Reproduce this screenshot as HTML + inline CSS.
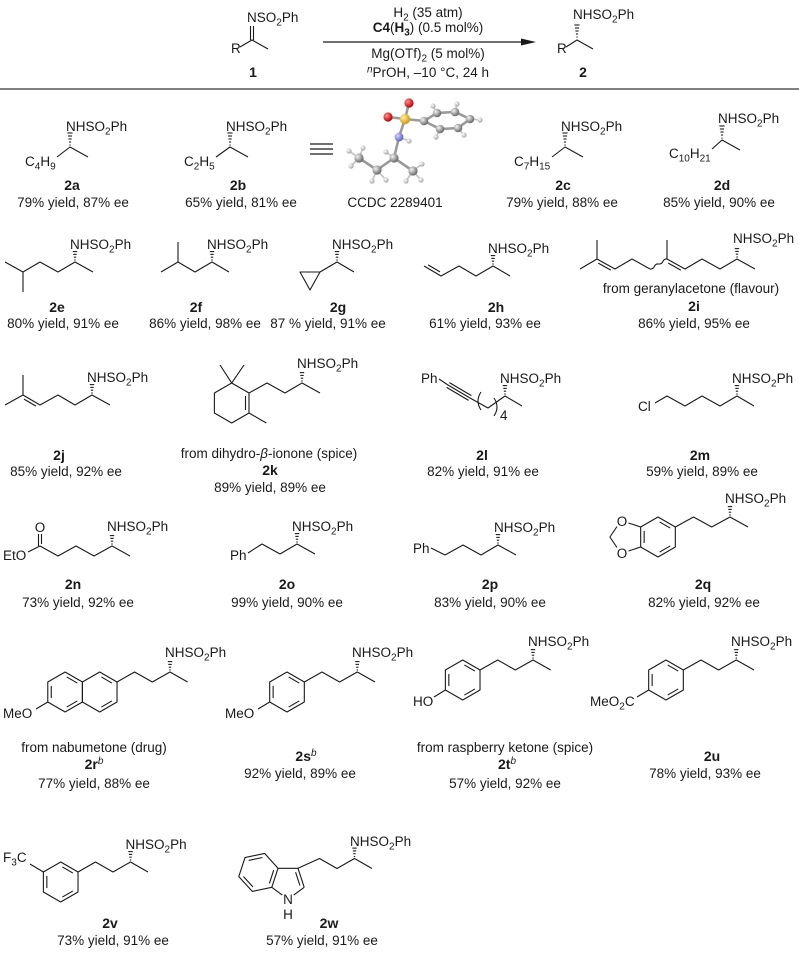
<!DOCTYPE html>
<html><head><meta charset="utf-8"><style>
html,body{margin:0;padding:0;background:#fff;width:799px;height:959px;overflow:hidden}
svg{display:block}
text{font-family:"Liberation Sans",Arial,sans-serif;font-size:13.5px;fill:#1a1a1a}
.l{font-weight:bold;font-size:14px;text-anchor:middle}
.c{text-anchor:middle}
.s{stroke:#1a1a1a;stroke-width:1.1;fill:none;stroke-linejoin:round}
</style></head><body>
<svg width="799" height="959" viewBox="0 0 799 959" xmlns="http://www.w3.org/2000/svg">
<defs>
<g id="hw" stroke="#1a1a1a" stroke-width="1.1">
<line x1="-0.7" y1="-2" x2="0.7" y2="-2"/><line x1="-1.2" y1="-4.8" x2="1.2" y2="-4.8"/><line x1="-1.7" y1="-7.6" x2="1.7" y2="-7.6"/><line x1="-2.2" y1="-10.4" x2="2.2" y2="-10.4"/>
</g>
<g id="hwl" stroke="#1a1a1a" stroke-width="1.1">
<line x1="-0.6" y1="-2" x2="0.6" y2="-2"/><line x1="-1.1" y1="-5" x2="1.1" y2="-5"/><line x1="-1.6" y1="-8" x2="1.6" y2="-8"/><line x1="-2.1" y1="-11" x2="2.1" y2="-11"/><line x1="-2.6" y1="-14" x2="2.6" y2="-14"/>
</g>
<g id="hx" stroke="#1a1a1a" stroke-width="1.1" fill="none" stroke-linejoin="round">
<polygon points="0,-20 17.32,-10 17.32,10 0,20 -17.32,10 -17.32,-10"/>
<line x1="1.66" y1="-15.04" x2="12.2" y2="-8.96"/><line x1="12.2" y1="8.96" x2="1.66" y2="15.04"/><line x1="-13.86" y1="6.08" x2="-13.86" y2="-6.08"/>
</g>
<g id="hx2" stroke="#1a1a1a" stroke-width="1.1" fill="none" stroke-linejoin="round">
<polygon points="0,-20 17.32,-10 17.32,10 0,20 -17.32,10 -17.32,-10"/>
<line x1="1.66" y1="-15.04" x2="12.2" y2="-8.96"/><line x1="12.2" y1="8.96" x2="1.66" y2="15.04"/>
</g>
<radialGradient id="gC" cx="35%" cy="35%" r="65%"><stop offset="0" stop-color="#f4f4f4"/><stop offset="1" stop-color="#6a6a6a"/></radialGradient>
<radialGradient id="gH" cx="35%" cy="35%" r="65%"><stop offset="0" stop-color="#ffffff"/><stop offset="1" stop-color="#a8a8a8"/></radialGradient>
<radialGradient id="gS" cx="35%" cy="35%" r="65%"><stop offset="0" stop-color="#fff2a0"/><stop offset="1" stop-color="#d09a10"/></radialGradient>
<radialGradient id="gO" cx="35%" cy="35%" r="65%"><stop offset="0" stop-color="#ff9090"/><stop offset="1" stop-color="#c00000"/></radialGradient>
<radialGradient id="gN" cx="35%" cy="35%" r="65%"><stop offset="0" stop-color="#d8d8ff"/><stop offset="1" stop-color="#6060c0"/></radialGradient>
</defs>

<!-- ===== Header ===== -->
<text x="247" y="22">NSO<tspan dy="3.5" font-size="10">2</tspan><tspan dy="-3.5">Ph</tspan></text>
<path class="s" d="M250.5,26V40M253.5,26V40M240,47L252,40L268,49"/>
<text x="231" y="53">R</text>
<text class="l" x="253" y="77">1</text>
<line x1="323" y1="42" x2="526" y2="42" stroke="#1a1a1a" stroke-width="1.3"/>
<polygon points="521,38.5 536,42 521,45.5" fill="#1a1a1a"/>
<text class="c" x="428" y="17">H<tspan dy="3.5" font-size="10">2</tspan><tspan dy="-3.5"> (35 atm)</tspan></text>
<text class="c" x="428" y="32"><tspan font-weight="bold">C4</tspan>(<tspan font-weight="bold">H</tspan><tspan font-weight="bold" font-size="10" dy="3.5">3</tspan><tspan dy="-3.5">) (0.5 mol%)</tspan></text>
<text class="c" x="428" y="58">Mg(OTf)<tspan dy="3.5" font-size="10">2</tspan><tspan dy="-3.5"> (5 mol%)</tspan></text>
<text class="c" x="428" y="77"><tspan font-style="italic" font-size="10" dy="-4.5">n</tspan><tspan dy="4.5">PrOH, –10 °C, 24 h</tspan></text>
<text x="573" y="19">NHSO<tspan dy="3.5" font-size="10">2</tspan><tspan dy="-3.5">Ph</tspan></text>
<use href="#hwl" x="577" y="39"/>
<path class="s" d="M566,47L577,40L593,49"/>
<text x="557" y="53">R</text>
<text class="l" x="583" y="77">2</text>
<line x1="0" y1="89" x2="799" y2="89" stroke="#808080" stroke-width="2"/>

<!-- ===== Row 1 ===== -->
<text x="66" y="131">NHSO<tspan dy="3.5" font-size="10">2</tspan><tspan dy="-3.5">Ph</tspan></text>
<use href="#hwl" x="70" y="147"/>
<text x="25" y="166">C<tspan dy="3.5" font-size="10">4</tspan><tspan dy="-3.5">H</tspan><tspan dy="3.5" font-size="10">9</tspan></text>
<path class="s" d="M57,157L70,147L88,157"/>
<text class="l" x="72" y="190">2a</text>
<text class="c" x="73" y="207">79% yield, 87% ee</text>

<text x="226" y="131">NHSO<tspan dy="3.5" font-size="10">2</tspan><tspan dy="-3.5">Ph</tspan></text>
<use href="#hwl" x="230" y="147"/>
<text x="184" y="166">C<tspan dy="3.5" font-size="10">2</tspan><tspan dy="-3.5">H</tspan><tspan dy="3.5" font-size="10">5</tspan></text>
<path class="s" d="M216,157L230,147L248,157"/>
<text class="l" x="238" y="190">2b</text>
<text class="c" x="241" y="207">65% yield, 81% ee</text>

<path d="M310,144H333M310,149H333M310,154H333" stroke="#1a1a1a" stroke-width="1.3"/>

<g stroke="#9a9a9a" stroke-width="2.6" stroke-linecap="round" fill="none">
<path d="M405,119L409,103M405,119L388,117M405,119L399,137M405,119L424,121M424,121L437,113L455,112L470,119L458,128L440,129Z M399,137L394,158M394,158L413,171M394,158L377,170M377,170L359,158"/>
</g>
<g stroke="#c0c0c0" stroke-width="1.6" fill="none">
<path d="M359,158L349,151M359,158L351,166M359,158L363,148M377,170L372,181M377,170L386,180M394,158L386,152M413,171L422,164M413,171L421,180M413,171L406,181M399,137L409,141M437,113L433,106M455,112L457,104M470,119L480,120M458,128L464,135M440,129L436,137"/>
</g>
<g>
<circle cx="349" cy="151" r="2.6" fill="url(#gH)"/><circle cx="351" cy="166" r="2.6" fill="url(#gH)"/><circle cx="363" cy="148" r="2.6" fill="url(#gH)"/>
<circle cx="372" cy="181" r="2.6" fill="url(#gH)"/><circle cx="386" cy="180" r="2.6" fill="url(#gH)"/><circle cx="386" cy="152" r="2.6" fill="url(#gH)"/>
<circle cx="422" cy="164" r="2.6" fill="url(#gH)"/><circle cx="421" cy="180" r="2.6" fill="url(#gH)"/><circle cx="406" cy="181" r="2.6" fill="url(#gH)"/>
<circle cx="409" cy="141" r="2.6" fill="url(#gH)"/><circle cx="433" cy="106" r="2.6" fill="url(#gH)"/><circle cx="457" cy="104" r="2.6" fill="url(#gH)"/>
<circle cx="480" cy="120" r="2.6" fill="url(#gH)"/><circle cx="464" cy="135" r="2.6" fill="url(#gH)"/><circle cx="436" cy="137" r="2.6" fill="url(#gH)"/>
<circle cx="388" cy="117" r="4.6" fill="url(#gO)"/>
<circle cx="409" cy="103" r="4.6" fill="url(#gO)"/>
<circle cx="405" cy="119" r="5.2" fill="url(#gS)"/>
<circle cx="399" cy="137" r="4.4" fill="url(#gN)"/>
<circle cx="424" cy="121" r="4.3" fill="url(#gC)"/><circle cx="437" cy="113" r="4.3" fill="url(#gC)"/><circle cx="455" cy="112" r="4.3" fill="url(#gC)"/>
<circle cx="470" cy="119" r="4.3" fill="url(#gC)"/><circle cx="458" cy="128" r="4.3" fill="url(#gC)"/><circle cx="440" cy="129" r="4.3" fill="url(#gC)"/>
<circle cx="394" cy="158" r="4.6" fill="url(#gC)"/><circle cx="413" cy="171" r="4.6" fill="url(#gC)"/>
<circle cx="377" cy="170" r="4.6" fill="url(#gC)"/><circle cx="359" cy="158" r="4.6" fill="url(#gC)"/>
</g>
<text class="c" x="395" y="207">CCDC 2289401</text>

<text x="561" y="131">NHSO<tspan dy="3.5" font-size="10">2</tspan><tspan dy="-3.5">Ph</tspan></text>
<use href="#hwl" x="565" y="147"/>
<text x="514" y="166">C<tspan dy="3.5" font-size="10">7</tspan><tspan dy="-3.5">H</tspan><tspan dy="3.5" font-size="10">15</tspan></text>
<path class="s" d="M552,157L565,147L583,157"/>
<text class="l" x="563" y="190">2c</text>
<text class="c" x="562" y="207">79% yield, 88% ee</text>

<text x="718" y="123">NHSO<tspan dy="3.5" font-size="10">2</tspan><tspan dy="-3.5">Ph</tspan></text>
<use href="#hwl" x="722" y="140"/>
<text x="669" y="158">C<tspan dy="3.5" font-size="10">10</tspan><tspan dy="-3.5">H</tspan><tspan dy="3.5" font-size="10">21</tspan></text>
<path class="s" d="M712,149L722,140L740,150"/>
<text class="l" x="722" y="190">2d</text>
<text class="c" x="719" y="207">85% yield, 90% ee</text>

<!-- ===== Row 2 ===== -->
<text x="70" y="249">NHSO<tspan dy="3.5" font-size="10">2</tspan><tspan dy="-3.5">Ph</tspan></text>
<use href="#hw" x="75" y="262"/>
<path class="s" d="M5,262L23,272L40,262L58,272L75,262L93,272M23,272V292"/>
<text class="l" x="57" y="312">2e</text>
<text class="c" x="63" y="328">80% yield, 91% ee</text>

<text x="207" y="249">NHSO<tspan dy="3.5" font-size="10">2</tspan><tspan dy="-3.5">Ph</tspan></text>
<use href="#hw" x="212" y="262"/>
<path class="s" d="M161,272L178,262L195,272L212,262L229,272M178,262V242"/>
<text class="l" x="196" y="312">2f</text>
<text class="c" x="205" y="328">86% yield, 98% ee</text>

<text x="332" y="249">NHSO<tspan dy="3.5" font-size="10">2</tspan><tspan dy="-3.5">Ph</tspan></text>
<use href="#hw" x="337" y="262"/>
<path class="s" d="M354,272L337,262L320,272M320,272L300,272L310,290Z"/>
<text class="l" x="338" y="312">2g</text>
<text class="c" x="328" y="328">87 % yield, 91% ee</text>

<text x="488" y="253">NHSO<tspan dy="3.5" font-size="10">2</tspan><tspan dy="-3.5">Ph</tspan></text>
<use href="#hw" x="493" y="266"/>
<path class="s" d="M424,266L441,276L459,266L476,276L493,266L510,276M428.1,264.9L440,271.9"/>
<text class="l" x="496" y="312">2h</text>
<text class="c" x="485" y="328">61% yield, 93% ee</text>

<text x="733" y="243">NHSO<tspan dy="3.5" font-size="10">2</tspan><tspan dy="-3.5">Ph</tspan></text>
<use href="#hw" x="737" y="259"/>
<path class="s" d="M580,269L597,259L615,269L632,259L650,269M667,259L685,269L702,259L720,269L737,259L755,269M597,259V240M667,259V240M598.2,263.1L610.8,270.1M668.2,263.1L680.8,270.1"/>
<path class="s" d="M650,269q3,0.3 4.3,-2.5t4.3,-2.5t4.3,-2.5t4.1,-2.5"/>
<text class="c" x="691" y="293">from geranylacetone (flavour)</text>
<text class="l" x="694" y="311">2i</text>
<text class="c" x="694" y="328">86% yield, 95% ee</text>

<!-- ===== Row 3 ===== -->
<text x="87" y="382">NHSO<tspan dy="3.5" font-size="10">2</tspan><tspan dy="-3.5">Ph</tspan></text>
<use href="#hw" x="92" y="395"/>
<path class="s" d="M5,405L23,395L40,405L58,395L75,405L92,395L110,405M23,395V375M24,399.1L35.9,406.1"/>
<text class="l" x="59" y="460">2j</text>
<text class="c" x="66" y="476">85% yield, 92% ee</text>

<text x="297" y="368">NHSO<tspan dy="3.5" font-size="10">2</tspan><tspan dy="-3.5">Ph</tspan></text>
<use href="#hw" x="302" y="383"/>
<path class="s" d="M320,393L302,383L285,393L267,383L249,393M249,393L249,413L231.7,423L214.4,413L214.4,393L231.7,383Z M231.7,383L220,365M231.7,383L244,365M249,413L266.3,423M245.5,396V410"/>
<text class="c" x="269" y="458">from dihydro-<tspan font-style="italic">β</tspan>-ionone (spice)</text>
<text class="l" x="270" y="475">2k</text>
<text class="c" x="270" y="492">89% yield, 89% ee</text>

<text x="421" y="383">Ph</text>
<text x="500" y="383">NHSO<tspan dy="3.5" font-size="10">2</tspan><tspan dy="-3.5">Ph</tspan></text>
<use href="#hw" x="505" y="396"/>
<path class="s" d="M439,379L448,385L470,398L488,408L505,396L522,406M446.6,387.4L468.6,400.4M449.4,382.6L471.4,395.6M481,392q-6,9 0,18M494,398q6,9 0,18"/>
<text x="500" y="420" font-size="10">4</text>
<text class="l" x="482" y="460">2l</text>
<text class="c" x="483" y="476">82% yield, 91% ee</text>

<text x="732" y="383">NHSO<tspan dy="3.5" font-size="10">2</tspan><tspan dy="-3.5">Ph</tspan></text>
<use href="#hw" x="737" y="396"/>
<path class="s" d="M655,403L667,396L685,406L702,396L720,406L737,396L754,406"/>
<text x="638" y="411">Cl</text>
<text class="l" x="700" y="460">2m</text>
<text class="c" x="702" y="476">59% yield, 89% ee</text>

<!-- ===== Row 4 ===== -->
<text class="c" x="40" y="532">O</text>
<text x="3" y="560">EtO</text>
<text x="107" y="531">NHSO<tspan dy="3.5" font-size="10">2</tspan><tspan dy="-3.5">Ph</tspan></text>
<use href="#hw" x="112" y="546"/>
<path class="s" d="M38.5,534V546M41.5,534V544M28,552L40,546L58,556L76,546L94,556L112,546L130,556"/>
<text class="l" x="73" y="589">2n</text>
<text class="c" x="78" y="607">73% yield, 92% ee</text>

<text x="230" y="560">Ph</text>
<text x="292" y="531">NHSO<tspan dy="3.5" font-size="10">2</tspan><tspan dy="-3.5">Ph</tspan></text>
<use href="#hw" x="297" y="544"/>
<path class="s" d="M248,553L262,544L280,554L297,544L315,554"/>
<text class="l" x="287" y="589">2o</text>
<text class="c" x="287" y="607">99% yield, 90% ee</text>

<text x="413" y="553">Ph</text>
<text x="494" y="532">NHSO<tspan dy="3.5" font-size="10">2</tspan><tspan dy="-3.5">Ph</tspan></text>
<use href="#hw" x="498" y="545"/>
<path class="s" d="M431,548L445,555L463,545L481,555L498,545L516,555"/>
<text class="l" x="490" y="589">2p</text>
<text class="c" x="490" y="607">83% yield, 90% ee</text>

<use href="#hx" x="658" y="537"/>
<text class="c" x="622" y="526">O</text>
<text class="c" x="622" y="558">O</text>
<path class="s" d="M640.7,527L628.5,523M617,526.5L609.9,537L617,547.5M640.7,547L628.5,551"/>
<text x="725" y="503">NHSO<tspan dy="3.5" font-size="10">2</tspan><tspan dy="-3.5">Ph</tspan></text>
<use href="#hw" x="730" y="517"/>
<path class="s" d="M675.3,527L693.5,517L711.7,527L730,517L748,527"/>
<text class="l" x="703" y="589">2q</text>
<text class="c" x="704" y="607">82% yield, 92% ee</text>

<!-- ===== Row 5 ===== -->
<use href="#hx" x="65.1" y="692"/>
<use href="#hx2" x="99.7" y="692"/>
<path class="s" d="M47.8,702L36,709M117,682L134.6,672L152.3,682L170,672L187.6,682"/>
<text x="3" y="718">MeO</text>
<text x="165" y="657">NHSO<tspan dy="3.5" font-size="10">2</tspan><tspan dy="-3.5">Ph</tspan></text>
<use href="#hw" x="170" y="672"/>
<text class="c" x="94" y="752">from nabumetone (drug)</text>
<text class="l" x="94" y="769">2r<tspan font-style="italic" font-weight="normal" font-size="10" dy="-5">b</tspan></text>
<text class="c" x="94" y="788">77% yield, 88% ee</text>

<use href="#hx" x="287" y="692"/>
<path class="s" d="M269.7,702L258,709M304.3,682L322,672L339.6,682L357.3,672L375,682"/>
<text x="225" y="718">MeO</text>
<text x="352" y="657">NHSO<tspan dy="3.5" font-size="10">2</tspan><tspan dy="-3.5">Ph</tspan></text>
<use href="#hw" x="357.3" y="672"/>
<text class="l" x="306" y="761">2s<tspan font-style="italic" font-weight="normal" font-size="10" dy="-5">b</tspan></text>
<text class="c" x="300" y="778">92% yield, 89% ee</text>

<use href="#hx" x="462.7" y="680"/>
<path class="s" d="M445.4,690L434,697M480,670L497.7,660L515.3,670L533,660L550.7,670"/>
<text x="413" y="706">HO</text>
<text x="528" y="646">NHSO<tspan dy="3.5" font-size="10">2</tspan><tspan dy="-3.5">Ph</tspan></text>
<use href="#hw" x="533" y="660"/>
<text class="c" x="505" y="752">from raspberry ketone (spice)</text>
<text class="l" x="507" y="769">2t<tspan font-style="italic" font-weight="normal" font-size="10" dy="-5">b</tspan></text>
<text class="c" x="505" y="788">57% yield, 92% ee</text>

<use href="#hx" x="666" y="680"/>
<path class="s" d="M648.7,690L637,697M683.3,670L701,660L718.6,670L736.3,660L754,670"/>
<text x="590" y="706">MeO<tspan dy="3.5" font-size="10">2</tspan><tspan dy="-3.5">C</tspan></text>
<text x="731" y="646">NHSO<tspan dy="3.5" font-size="10">2</tspan><tspan dy="-3.5">Ph</tspan></text>
<use href="#hw" x="736.3" y="660"/>
<text class="l" x="712" y="761">2u</text>
<text class="c" x="705" y="778">78% yield, 93% ee</text>

<!-- ===== Row 6 ===== -->
<use href="#hx" x="60.7" y="882"/>
<path class="s" d="M43.4,872L30,864M78,872L95.5,862L113,872L130.5,862L148,872"/>
<text x="3" y="862">F<tspan dy="3.5" font-size="10">3</tspan><tspan dy="-3.5">C</tspan></text>
<text x="125.5" y="849">NHSO<tspan dy="3.5" font-size="10">2</tspan><tspan dy="-3.5">Ph</tspan></text>
<use href="#hw" x="130.5" y="862"/>
<text class="l" x="110" y="928">2v</text>
<text class="c" x="113" y="945">73% yield, 91% ee</text>

<g transform="translate(-4,0)">
<path class="s" d="M282,868.3L268.6,853.4L249,857.6L242.8,876.6L256.3,891.4L275.8,887.3Z M282,868.3L302,868.3L308.2,887.3M275.8,887.3L286.3,895.1M308.2,887.3L297.7,895.1"/>
<path class="s" d="M299.6,872.2L303.9,885.5M266.4,857.5L252.7,860.4M247.4,876.5L256.9,886.9M273.4,883.4L277.7,870.1"/>
<text class="c" x="292" y="904">N</text>
<text class="c" x="292" y="919">H</text>
</g>
<path class="s" d="M298,868.3L319.5,858.5L337,868.5L354.5,858.5L372,868.5"/>
<text x="350" y="846">NHSO<tspan dy="3.5" font-size="10">2</tspan><tspan dy="-3.5">Ph</tspan></text>
<use href="#hw" x="354.5" y="858.5"/>
<text class="l" x="329" y="928">2w</text>
<text class="c" x="322" y="945">57% yield, 91% ee</text>
</svg>
</body></html>
